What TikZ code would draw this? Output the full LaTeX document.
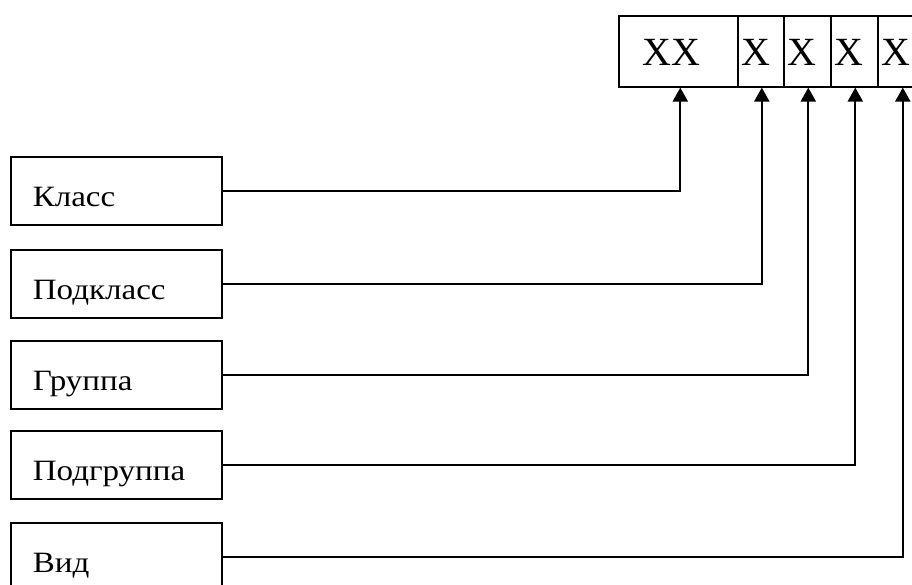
\documentclass[tikz,border=0pt]{standalone}
\usepackage{fontspec}
\setmainfont{Liberation Serif}
\newfontfamily\lblfont[FakeStretch=1.12]{Liberation Serif}
\usetikzlibrary{arrows.meta}
\tikzset{
  lbox/.style={draw, line width=1.6pt, anchor=north west, inner ysep=0pt, inner xsep=22pt,
    text width=167pt, text height=50pt, text depth=18pt, align=left,
    font=\lblfont\fontsize{29.5}{31}\selectfont},
  cell/.style={draw, line width=1.6pt, anchor=north west, inner sep=0pt,
    text height=50pt, text depth=21pt, minimum height=71pt,
    font=\fontsize{40}{44}\selectfont},
  conn/.style={line width=2.2pt, -{Triangle[length=14pt,width=15pt]}}
}
\begin{document}
\begin{tikzpicture}[x=1pt,y=-1pt]
\useasboundingbox (0,0) rectangle (912,585);
\clip (0,0) rectangle (912,585);
% code cells
\node[cell, minimum width=119pt] (c1) at (618,15) {XX\hspace*{14pt}};
\node[cell, minimum width=46pt] (c2) at (737,15) {X\hspace*{10pt}};
\node[cell, minimum width=47pt] (c3) at (783,15) {X\hspace*{10pt}};
\node[cell, minimum width=47pt] (c4) at (830,15) {X\hspace*{10pt}};
\node[cell, minimum width=46pt] (c5) at (877,15) {X\hspace*{10pt}};
% label boxes
\node[lbox] (b1) at (10,156) {Класс};
\node[lbox] (b2) at (10,249) {Подкласс};
\node[lbox] (b3) at (10,340) {Группа};
\node[lbox] (b4) at (10,430) {Подгруппа};
\node[lbox] (b5) at (10,522) {Вид};
% connectors
\draw[conn] (b1.east) -| ([xshift=2pt]c1.south);
\draw[conn] (b2.east) -| ([xshift=1pt]c2.south);
\draw[conn] (b3.east) -| ([xshift=1pt]c3.south);
\draw[conn] (b4.east) -| ([xshift=1pt]c4.south);
\draw[conn] (b5.east) -| ([xshift=2pt]c5.south);
\end{tikzpicture}
\end{document}
